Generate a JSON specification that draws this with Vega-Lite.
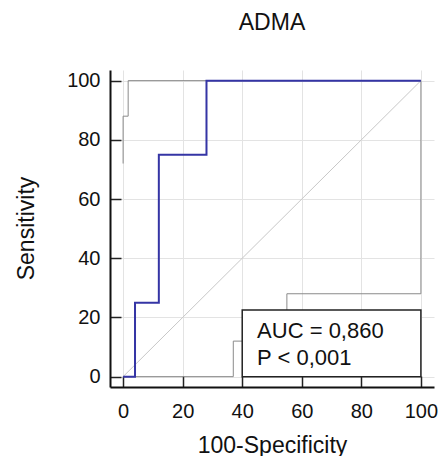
{
  "$schema": "https://vega.github.io/schema/vega-lite/v6.json",
  "width": 324,
  "height": 317,
  "autosize": {"type": "none"},
  "padding": {"left": 110, "top": 70, "right": 9, "bottom": 69},
  "background": "white",
  "config": {
    "view": {"stroke": null},
    "font": "Liberation Sans"
  },
  "title": {
    "text": "ADMA",
    "fontSize": 23,
    "fontWeight": "normal",
    "font": "Liberation Sans",
    "color": "#111",
    "anchor": "middle",
    "frame": "group",
    "baseline": "alphabetic",
    "offset": 17
  },
  "datasets": {
    "diag": [{"x": 0, "y": 0}, {"x": 100, "y": 100}],
    "ci": [
      {"band": "upper", "i": 1, "x": 0, "y": 72},
      {"band": "upper", "i": 2, "x": 0, "y": 88},
      {"band": "upper", "i": 3, "x": 1.7, "y": 88},
      {"band": "upper", "i": 4, "x": 1.7, "y": 100},
      {"band": "upper", "i": 5, "x": 100, "y": 100},
      {"band": "lower", "i": 1, "x": 0, "y": 0},
      {"band": "lower", "i": 2, "x": 37, "y": 0},
      {"band": "lower", "i": 3, "x": 37, "y": 12},
      {"band": "lower", "i": 4, "x": 55, "y": 12},
      {"band": "lower", "i": 5, "x": 55, "y": 28},
      {"band": "lower", "i": 6, "x": 100, "y": 28},
      {"band": "lower", "i": 7, "x": 100, "y": 100}
    ],
    "roc": [
      {"i": 1, "x": 0, "y": 0},
      {"i": 2, "x": 4, "y": 0},
      {"i": 3, "x": 4, "y": 25},
      {"i": 4, "x": 12, "y": 25},
      {"i": 5, "x": 12, "y": 75},
      {"i": 6, "x": 28, "y": 75},
      {"i": 7, "x": 28, "y": 100},
      {"i": 8, "x": 100, "y": 100}
    ]
  },
  "layer": [
    {
      "data": {"name": "diag"},
      "mark": {"type": "line", "color": "#c8c8c8", "strokeWidth": 1},
      "encoding": {
        "x": {
          "field": "x", "type": "quantitative",
          "scale": {"domain": [-4.4, 104.4], "nice": false, "zero": false},
          "axis": {
            "values": [0,5,10,15,20,25,30,35,40,45,50,55,60,65,70,75,80,85,90,95,100],
            "labelExpr": "datum.value % 20 === 0 ? datum.label : ''",
            "labelOverlap": false,
            "labelFlush": false,
            "ticks": true,
            "tickSize": {"condition": {"test": "datum.value % 20 === 0", "value": -11}, "value": -6},
            "grid": true,
            "gridColor": "#e3e3e3",
            "gridOpacity": {"condition": {"test": "datum.value % 20 === 0", "value": 1}, "value": 0},
            "domainColor": "#111",
            "domainWidth": 2,
            "tickColor": "#222",
            "tickWidth": 1.5,
            "labelFontSize": 20,
            "labelColor": "#111",
            "labelPadding": 25,
            "title": "100-Specificity",
            "titleFontSize": 23,
            "titleFontWeight": "normal",
            "titleColor": "#111",
            "titleX": 162,
            "titleY": 65,
            "titleBaseline": "alphabetic",
            "titleAlign": "center"
          }
        },
        "y": {
          "field": "y", "type": "quantitative",
          "scale": {"domain": [-3.5, 103.6], "nice": false, "zero": false},
          "axis": {
            "values": [0,5,10,15,20,25,30,35,40,45,50,55,60,65,70,75,80,85,90,95,100],
            "labelExpr": "datum.value % 20 === 0 ? datum.label : ''",
            "labelOverlap": false,
            "labelFlush": false,
            "ticks": true,
            "tickSize": {"condition": {"test": "datum.value % 20 === 0", "value": -11}, "value": -6},
            "grid": true,
            "gridColor": "#e3e3e3",
            "gridOpacity": {"condition": {"test": "datum.value % 20 === 0", "value": 1}, "value": 0},
            "domainColor": "#111",
            "domainWidth": 2,
            "tickColor": "#222",
            "tickWidth": 1.5,
            "labelFontSize": 20,
            "labelColor": "#111",
            "labelPadding": 21,
            "title": "Sensitivity",
            "titleFontSize": 23,
            "titleFontWeight": "normal",
            "titleColor": "#111",
            "titleAngle": -90,
            "titleX": -77,
            "titleY": 158,
            "titleBaseline": "alphabetic",
            "titleAlign": "center"
          }
        }
      }
    },
    {
      "data": {"name": "ci"},
      "mark": {"type": "line", "color": "#8a8a8a", "strokeWidth": 1},
      "encoding": {
        "x": {"field": "x", "type": "quantitative"},
        "y": {"field": "y", "type": "quantitative"},
        "detail": {"field": "band"},
        "order": {"field": "i", "type": "quantitative"}
      }
    },
    {
      "data": {"name": "roc"},
      "mark": {"type": "line", "color": "#3535a5", "strokeWidth": 2},
      "encoding": {
        "x": {"field": "x", "type": "quantitative"},
        "y": {"field": "y", "type": "quantitative"},
        "order": {"field": "i", "type": "quantitative"}
      }
    },
    {
      "data": {"values": [{}]},
      "mark": {"type": "rect", "fill": "white", "stroke": "#222", "strokeWidth": 1.5},
      "encoding": {
        "x": {"datum": 40, "type": "quantitative"},
        "x2": {"datum": 100},
        "y": {"datum": 0, "type": "quantitative"},
        "y2": {"datum": 22.5}
      }
    },
    {
      "data": {"values": [{}]},
      "mark": {"type": "text", "align": "left", "baseline": "alphabetic", "fontSize": 22, "color": "#111", "lineHeight": 27, "font": "Liberation Sans"},
      "encoding": {
        "x": {"datum": 45, "type": "quantitative"},
        "y": {"datum": 13.1, "type": "quantitative"},
        "text": {"value": ["AUC = 0,860", "P < 0,001"]}
      }
    }
  ]
}
